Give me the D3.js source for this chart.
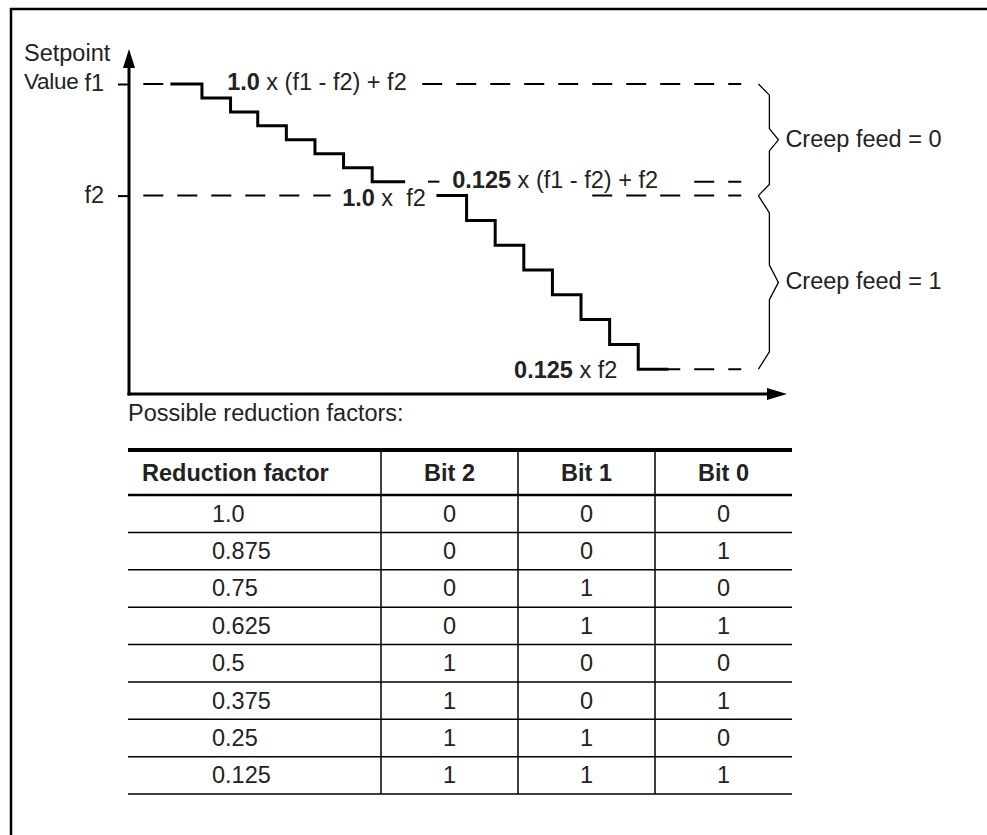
<!DOCTYPE html>
<html>
<head>
<meta charset="utf-8">
<script src="https://cdn.jsdelivr.net/npm/d3@7"></script>
<style>
  html, body { margin: 0; padding: 0; background: #fff; }
  svg { display: block; }
  text { font-family: "Liberation Sans", Arial, sans-serif; fill: #222; white-space: pre; }
</style>
</head>
<body>
<svg id="chart" width="987" height="835"></svg>
<script>
// setpoint values, f1 = 100 %
var f1 = 100;
var f2 = 64;

// staircases: time where each step starts (+ end time) and the level of each step
var stairFastTimes  = [1.5, 2.55, 3.55, 4.5, 5.5, 6.5, 7.5, 8.5, 9.6];
var stairFastLevels = [100, 95.5, 91, 86.5, 82, 77.5, 73, 68.5];
var stairSlowTimes  = [10.8, 11.8, 12.8, 13.8, 14.8, 15.8, 16.8, 17.8, 18.8];
var stairSlowLevels = [64, 56, 48, 40, 32, 24, 16, 8];

// table
var tableHeaders = ["Reduction factor", "Bit 2", "Bit 1", "Bit 0"];
var factorLabels = ["1.0", "0.875", "0.75", "0.625", "0.5", "0.375", "0.25", "0.125"];
var bit2 = [0, 0, 0, 0, 1, 1, 1, 1];
var bit1 = [0, 0, 1, 1, 0, 0, 1, 1];
var bit0 = [0, 1, 0, 1, 0, 1, 0, 1];


var svg = d3.select("svg#chart");
var fontSize = 23.5;

// frame (only top and left edge are visible)
svg.append("path")
    .attr("d", "M11,835 V9 H987")
    .attr("fill", "none")
    .attr("stroke", "#000")
    .attr("stroke-width", 2.5);

// ---------- diagram ----------
var x = d3.scaleLinear().domain([0, 23]).range([129, 787]);
var y = d3.scaleLinear().domain([0, 100]).range([394, 84]);

var plot = svg.append("g").attr("id", "plot");

// y axis ticks f1 / f2
var yAxis = d3.axisLeft(y)
    .tickValues([f1, f2])
    .tickFormat(function (d) { return d === f1 ? "f1" : "f2"; })
    .tickSize(11)
    .tickPadding(14);

var yGroup = plot.append("g").attr("transform", "translate(" + x(0) + ",0)").call(yAxis);
yGroup.select(".domain").remove();
yGroup.selectAll(".tick line").attr("stroke", "#000").attr("stroke-width", 2);
yGroup.selectAll(".tick text")
    .style("font-family", "Liberation Sans, Arial, sans-serif")
    .style("font-size", fontSize + "px")
    .attr("fill", "#222")
    .attr("dy", "0.28em");

// axis lines with arrows
plot.append("line")
    .attr("x1", x(0)).attr("x2", x(0))
    .attr("y1", y(0) + 1.5).attr("y2", 62)
    .attr("stroke", "#000").attr("stroke-width", 3);
plot.append("path")
    .attr("d", "M" + x(0) + ",49 L" + (x(0) - 6) + ",68 L" + (x(0) + 6) + ",68 Z")
    .attr("fill", "#000");

plot.append("line")
    .attr("x1", x(0) - 1.5).attr("x2", x(23) - 15)
    .attr("y1", y(0)).attr("y2", y(0))
    .attr("stroke", "#000").attr("stroke-width", 3);
plot.append("path")
    .attr("d", "M" + x(23) + "," + y(0) + " L" + (x(23) - 20) + "," + (y(0) - 6) + " L" + (x(23) - 20) + "," + (y(0) + 6) + " Z")
    .attr("fill", "#000");

// y axis title
svg.append("text").attr("x", 24).attr("y", 61).style("font-size", fontSize + "px").text("Setpoint");
svg.append("text").attr("x", 24).attr("y", 89)
    .style("font-size", "22.5px")
    .style("letter-spacing", "-0.3px")
    .text("Value");

// dashed guide lines (t from / to, level)
var guides = [
    {level: f1,   from: 0.5,   to: 1.5,  right: false},
    {level: f1,   from: 10.1,  to: 21.4, right: true},
    {level: 68.5, from: 10.45, to: 10.85, right: false},
    {level: 68.5, from: 19.3,  to: 21.4, right: true},
    {level: f2,   from: 0.5,   to: 7.05, right: false},
    {level: f2,   from: 16.1,  to: 21.4, right: true},
    {level: 8,    from: 18.8,  to: 21.4, right: true}
];

plot.selectAll("line.guide")
    .data(guides)
    .enter().append("line")
    .attr("class", "guide")
    .attr("x1", function (d) { return d.right ? x(d.to) : x(d.from); })
    .attr("x2", function (d) { return d.right ? x(d.from) : x(d.to); })
    .attr("y1", function (d) { return y(d.level); })
    .attr("y2", function (d) { return y(d.level); })
    .attr("stroke", "#000")
    .attr("stroke-width", 2)
    .attr("stroke-dasharray", "20,14")
    .attr("stroke-dashoffset", function (d) { return d.right ? 7 : 0; });

// staircases
var stairLine = d3.line()
    .x(function (d) { return x(d[0]); })
    .y(function (d) { return y(d[1]); })
    .curve(d3.curveStepAfter);

function stairPoints(times, levels) {
    var pts = levels.map(function (l, i) { return [times[i], l]; });
    pts.push([times[times.length - 1], levels[levels.length - 1]]);
    return pts;
}

[[stairFastTimes, stairFastLevels], [stairSlowTimes, stairSlowLevels]].forEach(function (s) {
    plot.append("path")
        .attr("d", stairLine(stairPoints(s[0], s[1])))
        .attr("fill", "none")
        .attr("stroke", "#000")
        .attr("stroke-width", 3)
        .attr("stroke-linejoin", "miter")
        .attr("stroke-linecap", "square");
});

// formula labels
var formulaLabels = [
    {t: 3.43,  level: f1,   bold: "1.0",   rest: " x (f1 - f2) + f2", dy: 6},
    {t: 11.3,  level: 68.5, bold: "0.125", rest: " x (f1 - f2) + f2", dy: 6},
    {t: 7.45,  level: f2,   bold: "1.0",   rest: " x  f2",            dy: 10},
    {t: 13.46, level: 8,    bold: "0.125", rest: " x f2",             dy: 9}
];

var fl = plot.selectAll("text.formula")
    .data(formulaLabels)
    .enter().append("text")
    .attr("class", "formula")
    .attr("x", function (d) { return x(d.t); })
    .attr("y", function (d) { return y(d.level) + d.dy; })
    .style("font-size", fontSize + "px");
fl.append("tspan").style("font-weight", "bold").text(function (d) { return d.bold; });
fl.append("tspan").text(function (d) { return d.rest; });

// braces for creep feed
function bracePath(yTop, yBot, x0) {
    var d = 0.1 * (yBot - yTop);
    var mid = (yTop + yBot) / 2;
    return "M" + x0 + "," + yTop +
        " L" + (x0 + 11) + "," + (yTop + d) +
        " L" + (x0 + 11) + "," + (mid - d) +
        " L" + (x0 + 20) + "," + mid +
        " L" + (x0 + 11) + "," + (mid + d) +
        " L" + (x0 + 11) + "," + (yBot - d) +
        " L" + x0 + "," + yBot;
}

var braces = [
    {top: f1, bottom: f2, label: "Creep feed = 0"},
    {top: f2, bottom: 8,  label: "Creep feed = 1"}
];

braces.forEach(function (b) {
    plot.append("path")
        .attr("d", bracePath(y(b.top), y(b.bottom), x(22)))
        .attr("fill", "none")
        .attr("stroke", "#000")
        .attr("stroke-width", 1.3);
    plot.append("text")
        .attr("x", x(22) + 27)
        .attr("y", (y(b.top) + y(b.bottom)) / 2 + 7)
        .style("font-size", fontSize + "px")
        .text(b.label);
});

// ---------- table ----------
svg.append("text")
    .attr("x", 128).attr("y", 421)
    .style("font-size", fontSize + "px")
    .text("Possible reduction factors:");

var colWidths = [253, 137, 137, 137];
var colX = [128];
colWidths.forEach(function (w, i) { colX.push(colX[i] + w); });

var tableTop = 450, headerBottom = 495, tableBottom = 794;
var rowScale = d3.scaleBand().domain(factorLabels).range([headerBottom, tableBottom]);

var table = svg.append("g").attr("id", "table");

table.append("line")
    .attr("x1", colX[0]).attr("x2", colX[4])
    .attr("y1", tableTop).attr("y2", tableTop)
    .attr("stroke", "#000").attr("stroke-width", 4);
table.append("line")
    .attr("x1", colX[0]).attr("x2", colX[4])
    .attr("y1", headerBottom).attr("y2", headerBottom)
    .attr("stroke", "#000").attr("stroke-width", 2.5);

table.selectAll("line.row")
    .data(factorLabels)
    .enter().append("line")
    .attr("class", "row")
    .attr("x1", colX[0]).attr("x2", colX[4])
    .attr("y1", function (d) { return rowScale(d) + rowScale.bandwidth(); })
    .attr("y2", function (d) { return rowScale(d) + rowScale.bandwidth(); })
    .attr("stroke", "#000").attr("stroke-width", 1.5);

table.selectAll("line.col")
    .data(colX.slice(1, 4))
    .enter().append("line")
    .attr("class", "col")
    .attr("x1", function (d) { return d; }).attr("x2", function (d) { return d; })
    .attr("y1", tableTop + 2).attr("y2", tableBottom)
    .attr("stroke", "#000").attr("stroke-width", 1.5);

// header
table.selectAll("text.head")
    .data(tableHeaders)
    .enter().append("text")
    .attr("class", "head")
    .attr("x", function (d, i) { return i === 0 ? colX[0] + 14 : colX[i] + colWidths[i] / 2; })
    .attr("y", (tableTop + headerBottom) / 2 + 8)
    .attr("text-anchor", function (d, i) { return i === 0 ? "start" : "middle"; })
    .style("font-size", fontSize + "px")
    .style("font-weight", "bold")
    .text(function (d) { return d; });

// rows
var rows = factorLabels.map(function (f, i) { return [f, bit2[i], bit1[i], bit0[i]]; });

rows.forEach(function (r) {
    var cy = rowScale(r[0]) + rowScale.bandwidth() / 2 + 8;
    table.append("text")
        .attr("x", colX[0] + 84).attr("y", cy)
        .style("font-size", fontSize + "px")
        .text(r[0]);
    for (var c = 1; c < 4; c++) {
        table.append("text")
            .attr("x", colX[c] + colWidths[c] / 2).attr("y", cy)
            .attr("text-anchor", "middle")
            .style("font-size", fontSize + "px")
            .text(r[c]);
    }
});
</script>
</body>
</html>
